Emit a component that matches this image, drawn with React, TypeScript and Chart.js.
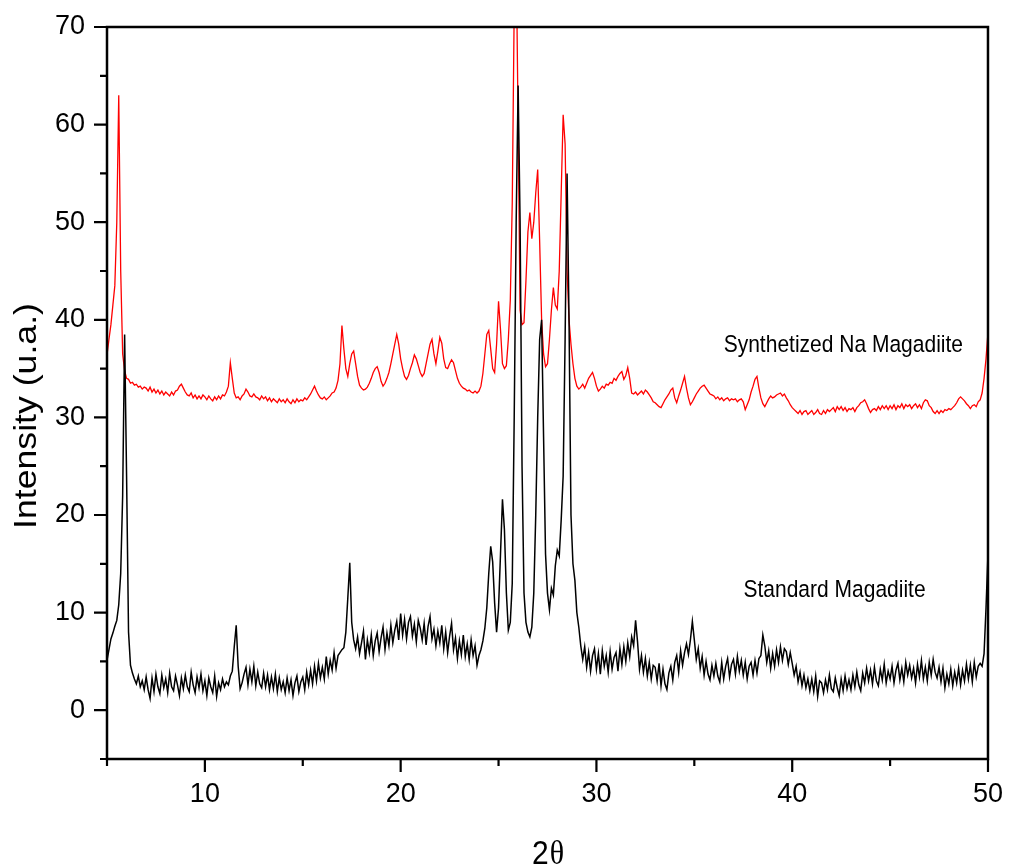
import React, { useEffect, useRef } from 'react';
import { Chart, registerables } from 'chart.js';

Chart.register(...registerables);

// ---- axis ranges & ticks ----
const X_MIN = 5;
const X_MAX = 50;
const Y_MIN = -5;
const Y_MAX = 70;
const X_TICK_STEP = 5;
const Y_TICK_STEP = 5;
const LABEL_EVERY = 10;

// ---- sampling grid of the patterns (2θ, degrees) ----
const X_START = 5;
const X_STEP = 0.1;

// ---- texts ----
const Y_TITLE = 'Intensity (u.a.)';
const X_TITLE_NUM = '2';
const X_TITLE_SYM = 'θ';
const SERIES_NAMES = ['Standard Magadiite', 'Synthetized Na Magadiite'];
const SERIES_COLORS = ['#000000', '#ff0000'];
// label anchors (data coordinates: 2θ, intensity)
const LABEL_ANCHORS = [
  { x: 37.51, y: 11.55 },
  { x: 36.5, y: 36.7 },
];

// ---- Standard Magadiite (black), one row per degree, 0.1° steps ----
const STANDARD = [
  5.1, 6.2, 7.3, 7.9, 8.6, 9.2, 10.8, 14.0, 22.0, 38.5,
  24.0, 8.0, 4.6, 3.8, 3.2, 2.7, 3.5, 2.4, 3.0, 2.1,
  3.4, 2.1, 1.2, 3.3, 1.9, 3.7, 2.4, 1.7, 3.6, 2.3,
  3.2, 1.8, 3.8, 2.4, 2.0, 3.5, 2.6, 1.5, 3.3, 2.2,
  3.6, 2.4, 1.9, 3.9, 2.6, 1.8, 3.4, 2.3, 3.7, 2.0,
  3.0, 1.5, 3.3, 2.4, 1.8, 3.5, 1.4, 2.8, 2.1, 3.2,
  2.4, 2.9, 2.6, 3.5, 4.0, 6.5, 8.7, 4.5, 2.2, 2.8,
  3.7, 4.4, 2.6, 4.2, 2.9, 4.5, 2.5, 3.9, 2.7, 2.3,
  3.8, 2.4, 3.6, 2.1, 3.4, 2.2, 3.7, 1.9, 3.3, 2.1,
  2.9, 1.8, 3.3, 2.0, 3.1, 1.5, 2.8, 3.5, 1.9, 2.9,
  3.4, 2.1, 3.9, 2.6, 4.1, 2.7, 4.5, 3.0, 4.8, 3.3,
  4.4, 3.2, 5.5, 3.7, 5.1, 4.1, 5.9, 4.3, 5.6, 5.9,
  6.2, 6.4, 8.0, 11.5, 15.1, 9.0, 7.2, 6.3, 7.5, 5.8,
  6.9, 8.1, 5.2, 7.2, 5.9, 7.7, 5.6, 7.1, 7.9, 6.0,
  7.4, 8.5, 6.2, 7.9, 6.6, 8.7, 6.9, 8.2, 9.1, 7.2,
  9.9, 7.7, 9.3, 7.3, 9.0, 9.6, 7.6, 8.8, 7.0, 9.2,
  8.4, 7.2, 8.9, 6.7, 8.6, 9.6, 7.3, 8.3, 6.6, 8.1,
  6.9, 8.7, 6.3, 8.0, 5.9, 7.6, 8.9, 6.2, 7.4, 5.3,
  7.1, 5.7, 7.7, 5.5, 6.8, 5.2, 7.2, 5.6, 6.6, 4.6,
  5.6, 6.2, 7.1, 8.4, 10.5, 14.0, 16.8, 15.2, 11.0, 8.0,
  10.5, 16.0, 21.6, 18.5, 12.0, 8.2, 9.0, 13.0, 30.0, 50.0,
  64.0, 50.0, 25.0, 12.0, 9.0, 8.0, 7.5, 8.5, 12.0, 20.0,
  30.0, 38.0, 40.0, 28.0, 16.0, 12.0, 10.3, 12.5, 11.8, 14.8,
  16.4, 15.8, 19.5, 24.0, 38.0, 55.0, 40.0, 20.0, 15.0, 13.3,
  10.0, 8.5, 6.6, 5.2, 6.5, 4.4, 5.9, 4.0, 5.6, 6.3,
  4.2, 5.8, 3.7, 6.1, 4.5, 5.6, 3.9, 6.0, 4.2, 5.4,
  5.9, 4.0, 6.3, 4.7, 6.5, 5.0, 6.9, 5.5, 7.5, 6.6,
  9.2, 7.0, 4.2, 5.6, 3.9, 5.3, 3.5, 4.9, 3.2, 4.6,
  4.4, 3.0, 4.8, 2.5, 4.2, 2.7, 2.1, 3.8, 4.5, 3.1,
  4.9, 5.6, 3.9, 6.1, 4.6, 5.9, 6.8, 5.7, 7.2, 9.1,
  7.2, 5.2, 6.3, 4.3, 5.5, 3.6, 5.0, 3.7, 3.1, 4.6,
  3.5, 4.8, 3.5, 2.9, 4.9, 3.2, 4.5, 5.3, 3.4, 4.7,
  5.2, 3.7, 5.5, 4.0, 5.1, 3.6, 4.9, 3.2, 4.5, 4.9,
  3.6, 5.1, 3.8, 5.3, 5.6, 7.7, 6.6, 4.9, 6.1, 4.3,
  5.8, 4.5, 6.2, 4.9, 6.5, 5.1, 6.3, 6.0, 4.7, 5.9,
  4.8, 3.6, 4.5, 2.9, 3.9, 2.5, 3.6, 2.3, 3.2, 2.0,
  3.2, 1.9, 3.5, 1.4, 3.0, 2.8, 1.8, 3.1, 2.1, 3.6,
  2.2, 1.9, 3.3, 2.3, 1.5, 3.2, 2.0, 3.5, 2.2, 3.1,
  2.1, 3.6, 2.4, 3.9, 2.6, 2.0, 3.8, 2.8, 4.3, 3.0,
  4.1, 2.7, 4.4, 3.0, 2.5, 4.2, 3.1, 4.7, 2.8, 4.0,
  3.2, 4.5, 2.8, 4.1, 4.8, 3.1, 4.3, 2.9, 4.9, 3.6,
  4.6, 3.3, 4.3, 2.8, 4.7, 3.4, 5.1, 3.2, 4.4, 3.0,
  4.9, 3.6, 5.2, 3.9, 3.3, 4.4, 2.9, 4.3, 2.3, 3.7,
  2.7, 4.2, 2.5, 3.9, 2.8, 4.3, 2.6, 4.1, 3.0, 4.7,
  3.2, 4.6, 2.9, 4.9, 3.4, 4.5, 4.8, 4.5, 5.8, 10.5,
  16.0,
];

// ---- Synthetized Na Magadiite (red), one row per degree, 0.1° steps ----
const SYNTHETIZED = [
  36.4, 38.0, 39.5, 41.5, 43.5, 50.0, 63.0, 45.0, 36.5, 34.8,
  34.0, 33.9, 33.5, 33.6, 33.3, 33.4, 33.1, 33.2, 32.9, 33.1,
  33.0, 32.7, 33.1, 32.6, 32.9, 32.5, 32.8, 32.4, 32.7, 32.3,
  32.6, 32.4, 32.2, 32.6, 32.3, 32.7, 32.8, 33.2, 33.4, 33.0,
  32.6, 32.3, 32.2, 32.5, 32.0, 32.3, 31.9, 32.2, 31.9, 32.3,
  32.1, 31.8, 32.2, 31.9, 31.7, 32.1, 31.8, 32.2, 31.9, 32.3,
  32.2, 32.6, 33.2, 35.6, 34.0, 32.5, 32.0, 32.1, 31.8, 32.2,
  32.4, 32.9, 32.6, 32.2, 32.1, 32.4, 32.1, 32.0, 31.8, 32.2,
  31.9, 32.1, 31.7, 32.0, 31.6, 31.9, 31.7, 31.5, 31.9, 31.6,
  31.8, 31.5, 31.9, 31.6, 31.4, 31.8, 31.5, 31.9, 31.6, 31.8,
  31.7, 32.0, 31.8, 32.1, 32.4, 32.8, 33.2, 32.7, 32.3, 32.0,
  31.9, 32.1, 31.8, 32.0, 32.2, 32.5, 32.6, 33.0, 33.8, 35.5,
  39.4, 37.0, 35.0, 34.2, 35.5, 36.5, 36.8, 35.5, 34.2, 33.3,
  33.0, 32.8, 32.9, 33.1, 33.5, 34.0, 34.6, 35.0, 35.2, 34.6,
  33.7, 33.2, 33.5, 34.0, 34.6, 35.5, 36.5, 37.5, 38.5, 37.5,
  36.0, 35.0, 34.2, 33.9, 34.3, 35.0, 35.6, 36.4, 36.0, 35.3,
  34.6, 34.2, 34.5, 35.5, 36.5, 37.5, 38.0, 36.5, 35.5, 36.8,
  38.2, 37.6, 36.0, 35.1, 35.0, 35.5, 35.9, 35.6, 34.8, 34.0,
  33.5, 33.2, 33.0, 32.9, 32.7, 32.8, 32.6, 32.5, 32.7, 32.5,
  32.7, 33.2, 34.5, 36.5, 38.5, 38.9, 37.0, 35.0, 34.6, 37.5,
  41.9, 39.0, 35.5, 35.0, 35.3, 38.0, 42.0, 52.0, 72.0, 78.0,
  60.0, 41.0, 39.5, 39.7, 44.0, 49.0, 51.0, 48.3, 50.0, 53.0,
  55.4, 48.0, 40.0, 36.5, 35.2, 35.5, 38.0, 41.0, 43.3, 41.5,
  41.1, 45.0, 53.0, 61.0, 58.0, 45.0, 40.0, 37.5, 35.5, 34.0,
  33.2, 32.9, 33.1, 33.4, 33.0, 33.5, 34.0, 34.3, 34.6, 34.0,
  33.2, 32.7, 32.9, 33.2, 33.0, 33.4, 33.3, 33.6, 33.5, 34.0,
  33.8, 34.2, 34.5, 34.7, 33.9, 34.3, 35.1, 34.0, 32.5, 32.4,
  32.6, 32.3, 32.5, 32.7, 32.4, 32.8, 32.6, 32.3, 32.0, 31.6,
  31.5, 31.3, 31.1, 31.0, 31.4, 31.8, 32.1, 32.4, 32.8, 33.0,
  32.0, 31.5, 32.2, 32.8, 33.5, 34.2, 33.0, 32.0, 31.3, 31.6,
  32.0, 32.4, 32.7, 33.0, 33.2, 33.3, 33.0, 32.7, 32.4, 32.3,
  32.2, 31.9, 32.1, 31.8, 32.0, 31.7, 31.9, 32.0, 31.7, 31.9,
  31.8, 31.9, 31.6, 31.8, 31.9, 31.6, 30.8, 31.3, 31.8, 32.6,
  33.2, 33.9, 34.2, 33.0, 32.0, 31.4, 31.1, 31.5, 31.9, 32.2,
  32.0, 32.1, 32.3, 32.4, 32.5, 32.2, 32.4, 32.0, 31.7, 31.3,
  31.0, 30.8, 30.6, 30.4, 30.7, 30.3, 30.6, 30.7, 30.3, 30.5,
  30.7, 30.3, 30.5, 30.8, 30.4, 30.3, 30.7, 30.4, 30.8, 30.6,
  30.8, 31.0, 30.6, 31.1, 30.8, 31.1, 30.7, 31.0, 30.6, 30.9,
  30.8, 31.0, 30.6, 31.0, 31.2, 31.5, 31.6, 31.8, 31.4, 30.9,
  30.5, 30.8, 30.9, 30.7, 31.1, 30.8, 31.2, 30.9, 31.2, 30.8,
  31.2, 30.9, 31.3, 30.8, 31.2, 31.0, 31.4, 30.9, 31.3, 31.1,
  31.3, 30.9, 31.2, 31.4, 31.0, 31.3, 30.9, 31.5, 31.8, 31.7,
  31.2, 31.0, 30.6, 30.4, 30.7, 30.4, 30.7, 30.5, 30.8, 30.7,
  30.9, 30.8, 31.0, 31.2, 31.5, 31.9, 32.1, 31.9, 31.7, 31.4,
  31.2, 30.9, 31.2, 31.3, 31.1, 31.6, 31.8, 32.5, 34.0, 36.0,
  38.7,
];

const SANS = '"Liberation Sans", Arial, sans-serif';
const SERIF = '"Liberation Serif", "Times New Roman", serif';

function toPoints(values: number[]) {
  return values.map((y, i) => ({ x: Math.round((X_START + i * X_STEP) * 10) / 10, y }));
}

const isMajor = (v: number) => Math.abs(v % LABEL_EVERY) < 1e-9;

const decorPlugin = {
  id: 'decor',
  afterDraw(chart: any) {
    const { ctx, chartArea: a, scales } = chart;
    const xs = scales.x;
    const ys = scales.y;
    ctx.save();
    ctx.strokeStyle = '#000';
    ctx.lineWidth = 2.5;
    ctx.strokeRect(a.left, a.top, a.right - a.left, a.bottom - a.top);

    // major and minor ticks (outward)
    const majorLen = 13;
    const minorLen = 7;
    ctx.lineWidth = 2.2;
    ctx.beginPath();
    for (const t of xs.ticks) {
      const len = isMajor(t.value) ? majorLen : minorLen;
      const px = xs.getPixelForValue(t.value);
      ctx.moveTo(px, a.bottom);
      ctx.lineTo(px, a.bottom + len);
    }
    for (const t of ys.ticks) {
      const len = isMajor(t.value) ? majorLen : minorLen;
      const py = ys.getPixelForValue(t.value);
      ctx.moveTo(a.left, py);
      ctx.lineTo(a.left - len, py);
    }
    ctx.stroke();

    ctx.fillStyle = '#000';
    // series labels
    SERIES_NAMES.forEach((name, i) => {
      const px = xs.getPixelForValue(LABEL_ANCHORS[i].x);
      const py = ys.getPixelForValue(LABEL_ANCHORS[i].y);
      ctx.save();
      ctx.translate(px, py);
      ctx.scale(1, 1.1);
      ctx.font = `21px ${SANS}`;
      ctx.textAlign = 'left';
      ctx.textBaseline = 'alphabetic';
      ctx.fillText(name, 0, 0);
      ctx.restore();
    });

    // y title
    ctx.save();
    ctx.translate(27, (a.top + a.bottom) / 2 + 23);
    ctx.rotate(-Math.PI / 2);
    ctx.scale(1.15, 1);
    ctx.font = `31px ${SANS}`;
    ctx.textAlign = 'center';
    ctx.textBaseline = 'middle';
    ctx.fillText(Y_TITLE, 0, 0);
    ctx.restore();

    // x title
    ctx.save();
    const cx = (a.left + a.right) / 2;
    ctx.font = `30px ${SANS}`;
    const w1 = ctx.measureText(X_TITLE_NUM).width;
    ctx.font = `30px ${SERIF}`;
    const w2 = ctx.measureText(X_TITLE_SYM).width;
    const startX = cx - (w1 + w2) / 2;
    ctx.translate(startX, 864);
    ctx.scale(1, 1.1);
    ctx.textAlign = 'left';
    ctx.textBaseline = 'alphabetic';
    ctx.font = `30px ${SANS}`;
    ctx.fillText(X_TITLE_NUM, 0, 0);
    ctx.font = `30px ${SERIF}`;
    ctx.fillText(X_TITLE_SYM, w1 + 1, 0);
    ctx.restore();

    ctx.restore();
  },
};

export default function App() {
  const canvasRef = useRef<HTMLCanvasElement | null>(null);

  useEffect(() => {
    const canvas = canvasRef.current;
    if (!canvas) return;
    const chart = new Chart(canvas, {
      type: 'line',
      data: {
        datasets: [
          {
            label: SERIES_NAMES[0],
            data: toPoints(STANDARD),
            borderColor: SERIES_COLORS[0],
            borderWidth: 1.5,
            pointRadius: 0,
            tension: 0,
            fill: false,
          },
          {
            label: SERIES_NAMES[1],
            data: toPoints(SYNTHETIZED),
            borderColor: SERIES_COLORS[1],
            borderWidth: 1.3,
            pointRadius: 0,
            tension: 0,
            fill: false,
          },
        ],
      },
      options: {
        responsive: false,
        animation: false,
        events: [],
        layout: { padding: { left: 0, top: 27, right: 19, bottom: 0 } },
        plugins: { legend: { display: false }, tooltip: { enabled: false } },
        scales: {
          x: {
            type: 'linear',
            min: X_MIN,
            max: X_MAX,
            afterFit: (s: any) => {
              s.height = 106;
            },
            border: { display: false },
            grid: {
              display: true,
              drawOnChartArea: false,
              drawTicks: true,
              tickLength: 13,
              tickWidth: 0,
              tickColor: 'rgba(0,0,0,0)',
            },
            ticks: {
              stepSize: X_TICK_STEP,
              autoSkip: false,
              maxRotation: 0,
              padding: 6,
              color: '#000',
              font: { family: SANS, size: 27 },
              callback: (v: any) => (isMajor(Number(v)) ? String(v) : ''),
            },
          },
          y: {
            type: 'linear',
            min: Y_MIN,
            max: Y_MAX,
            afterFit: (s: any) => {
              s.width = 107;
            },
            border: { display: false },
            grid: {
              display: true,
              drawOnChartArea: false,
              drawTicks: true,
              tickLength: 13,
              tickWidth: 0,
              tickColor: 'rgba(0,0,0,0)',
            },
            ticks: {
              stepSize: Y_TICK_STEP,
              autoSkip: false,
              padding: 9,
              color: '#000',
              font: { family: SANS, size: 27 },
              callback: (v: any) => (isMajor(Number(v)) ? String(v) : ''),
            },
          },
        },
      },
      plugins: [decorPlugin],
    });
    return () => chart.destroy();
  }, []);

  return (
    <div style={{ position: 'absolute', left: 0, top: 0, width: 1009, height: 865, background: '#fff' }}>
      <canvas ref={canvasRef} width={1009} height={865} style={{ display: 'block' }} />
    </div>
  );
}
